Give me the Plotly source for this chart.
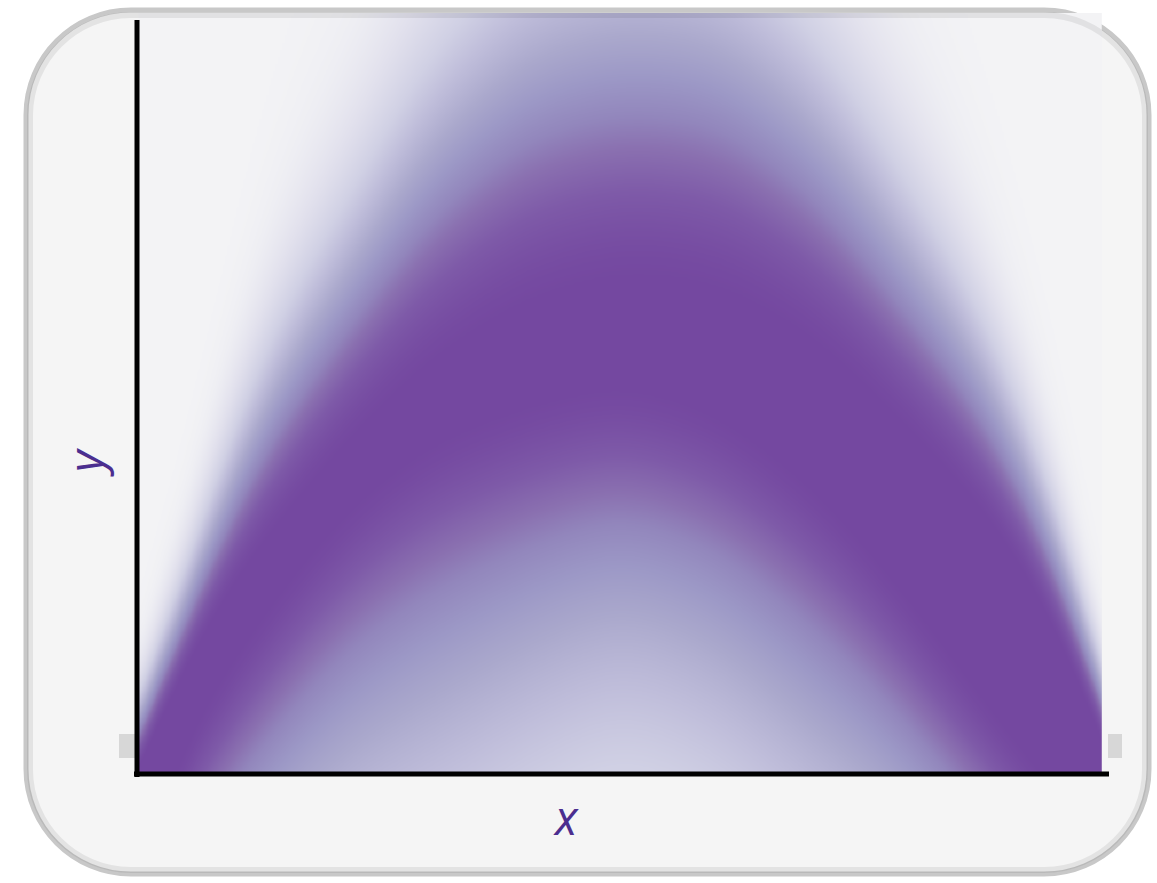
import numpy as np
import plotly.graph_objects as go

# band: x positions (0..1) and, for each, the dense core
# edges and how far the colour fades above / below the core (all in y units 0..1)
u_pts = [0.00, 0.03, 0.06, 0.10, 0.15, 0.22, 0.30, 0.40, 0.50, 0.60, 0.70, 0.78, 0.85, 0.90, 0.94, 0.97, 1.00]
core_top = [0.00, 0.09, 0.165, 0.255, 0.335, 0.44, 0.54, 0.62, 0.655, 0.64, 0.57, 0.47, 0.38, 0.30, 0.21, 0.13, 0.02]
core_bottom = [-0.15, 0.02, 0.085, 0.166, 0.26, 0.369, 0.45, 0.50, 0.53, 0.49, 0.39, 0.27, 0.15, 0.06, 0.00, -0.05, -0.12]
fade_up = [0.07, 0.08, 0.10, 0.15, 0.20, 0.23, 0.29, 0.33, 0.33, 0.33, 0.29, 0.24, 0.20, 0.16, 0.13, 0.09, 0.07]
fade_down = [0.20, 0.20, 0.20, 0.21, 0.23, 0.25, 0.27, 0.25, 0.23, 0.24, 0.25, 0.22, 0.20, 0.18, 0.18, 0.18, 0.18]

# density -> colour
colorscale = [
    [0.00, "#f3f3f5"],
    [0.05, "#eeeef3"],
    [0.15, "#e2e1ed"],
    [0.28, "#d0d0e4"],
    [0.38, "#bfbdda"],
    [0.50, "#aaa8cc"],
    [0.60, "#9c98c6"],
    [0.70, "#9286bc"],
    [0.78, "#8a70b0"],
    [0.88, "#7e5aa8"],
    [1.00, "#7448a0"],
]

label_color = "#4B2E8F"

# pixel layout of the page
W, H = 1157, 883
PL, PR, PT, PB = 137, 1107, 13, 773   # plot area edges in px
y_top = (PB - PT) / 753               # so that y = 1 sits at px 20


def to_paper(px, py):
    return (px - PL) / (PR - PL), (PB - py) / (PB - PT)


def rounded_path(L, T, R, B, r):
    k = 0.5523 * r
    pts = [
        ("M", [(L + r, T)]),
        ("L", [(R - r, T)]),
        ("C", [(R - r + k, T), (R, T + r - k), (R, T + r)]),
        ("L", [(R, B - r)]),
        ("C", [(R, B - r + k), (R - r + k, B), (R - r, B)]),
        ("L", [(L + r, B)]),
        ("C", [(L + r - k, B), (L, B - r + k), (L, B - r)]),
        ("L", [(L, T + r)]),
        ("C", [(L, T + r - k), (L + r - k, T), (L + r, T)]),
    ]
    out = []
    for cmd, ps in pts:
        coords = " ".join("%.5f,%.5f" % to_paper(x, y) for x, y in ps)
        out.append(cmd + " " + coords)
    return " ".join(out) + " Z"


def smooth(a, n):
    # gaussian smoothing of a parameter curve, linear trend kept at the ends
    k = np.exp(-0.5 * (np.arange(-3 * n, 3 * n + 1) / n) ** 2)
    k /= k.sum()
    p = np.pad(a, 3 * n, mode="reflect", reflect_type="odd")
    return np.convolve(p, k, mode="valid")


# density grid
uu = np.linspace(0.003, 0.993, 420)
vv = np.linspace(0, y_top, 320)
top = smooth(np.interp(uu, u_pts, core_top), 14)
bot = smooth(np.interp(uu, u_pts, core_bottom), 14)
hu = smooth(np.interp(uu, u_pts, fade_up), 14)
hd = smooth(np.interp(uu, u_pts, fade_down), 14)
V = vv[:, None]
d_up = np.clip(V - top, 0, None)
d_dn = np.clip(bot - V, 0, None)
e = 0.09
d_dn = np.sqrt(d_dn ** 2 + e ** 2) - e
z = np.exp(-np.log(2) * (d_up / hu) ** 1.7) * np.exp(-np.log(2) * (d_dn / hd))
z = np.round(z, 3)

fig = go.Figure(
    go.Heatmap(
        x=uu, y=vv, z=z,
        colorscale=colorscale, zmin=0, zmax=1,
        showscale=False, zsmooth="best", hoverinfo="skip",
    )
)

shapes = []
# card background + border
shapes.append(dict(type="path", xref="paper", yref="paper", layer="below",
                   path=rounded_path(26, 10, 1149, 874, 105),
                   fillcolor="#f5f5f5", line=dict(color="#c8c8c8", width=5)))
# soft inner shadow
shapes.append(dict(type="path", xref="paper", yref="paper", layer="above",
                   path=rounded_path(30, 15, 1145, 870, 101),
                   fillcolor="rgba(0,0,0,0)", line=dict(color="rgba(0,0,0,0.07)", width=6)))
# grey smudges at the ends of the band
for x0, x1 in [(119, 136), (1108, 1122)]:
    px0, py0 = to_paper(x0, 758)
    px1, py1 = to_paper(x1, 734)
    shapes.append(dict(type="rect", xref="paper", yref="paper", layer="below",
                       x0=px0, x1=px1, y0=py0, y1=py1,
                       fillcolor="rgba(190,190,190,0.55)", line=dict(width=0)))
# axis lines
ax0, ay0 = to_paper(137, 777)
ax1, ay1 = to_paper(137, 20)
shapes.append(dict(type="line", xref="paper", yref="paper", layer="above",
                   x0=ax0, x1=ax1, y0=ay0, y1=ay1, line=dict(color="black", width=5)))
bx0, by0 = to_paper(134, 774)
bx1, by1 = to_paper(1109, 774)
shapes.append(dict(type="line", xref="paper", yref="paper", layer="above",
                   x0=bx0, x1=bx1, y0=by0, y1=by1, line=dict(color="black", width=5)))

xl, yl = to_paper(566, 817)
yx, yy = to_paper(85, 463)
annotations = [
    dict(text="<i>x</i>", x=xl, y=yl, xref="paper", yref="paper",
         xanchor="center", yanchor="middle", showarrow=False,
         font=dict(family="Open Sans", size=47, color=label_color)),
    dict(text="<i>y</i>", x=yx, y=yy, xref="paper", yref="paper",
         xanchor="center", yanchor="middle", showarrow=False, textangle=-90,
         font=dict(family="Open Sans", size=47, color=label_color)),
]

fig.update_layout(
    width=W, height=H,
    margin=dict(l=PL, r=W - PR, t=PT, b=H - PB),
    paper_bgcolor="white",
    plot_bgcolor="rgba(0,0,0,0)",
    shapes=shapes,
    annotations=annotations,
    showlegend=False,
)
fig.update_xaxes(range=[0, 1], showgrid=False, zeroline=False, showticklabels=False,
                 ticks="", showline=False, fixedrange=True)
fig.update_yaxes(range=[0, y_top], showgrid=False, zeroline=False, showticklabels=False,
                 ticks="", showline=False, fixedrange=True)

fig.write_html("out.html", config={"displayModeBar": False},
               post_script="document.body.style.margin='0';document.body.style.overflow='hidden';")
